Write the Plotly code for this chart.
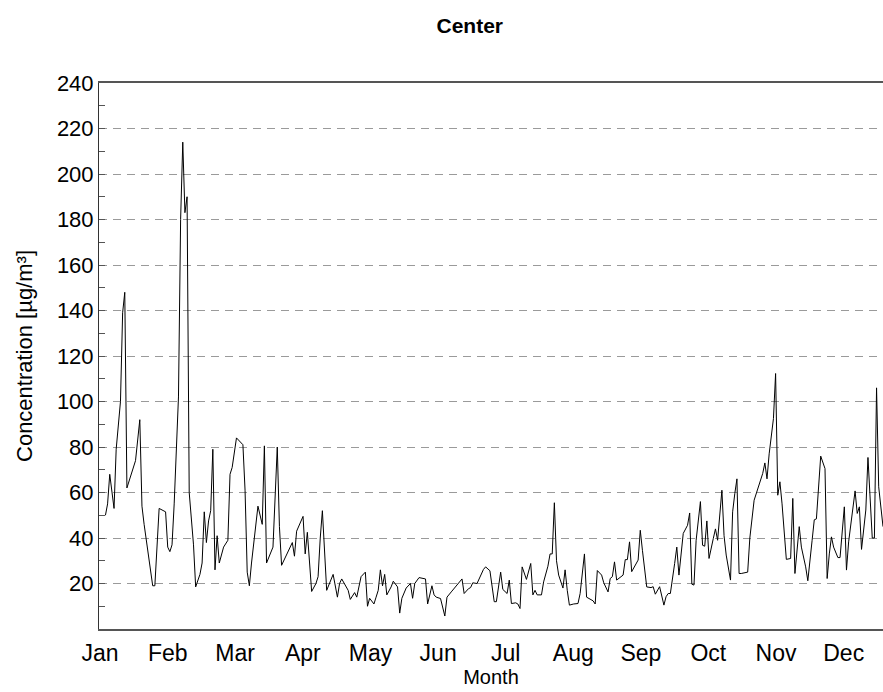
import plotly.graph_objects as go

# Daily mean concentration at the "Center" station (day of year, µg/m³)
days = [
    3, 4, 5, 7, 8, 10, 11, 12, 13, 15, 17, 19, 20, 21, 25, 26, 28, 31, 32, 33,
    34, 35, 37, 38, 39, 40, 41, 42, 44, 45, 47, 48, 49, 50, 51,
    52, 53, 54, 55, 56, 58, 60, 61, 62, 64, 67, 68, 69, 70, 71, 73, 74, 76, 77,
    78, 81, 83, 84, 85, 87, 90, 91, 92, 95, 96, 97, 99, 101, 102,
    103, 104, 106, 108, 109, 111, 112, 113, 115, 116, 117, 119, 120, 121, 122,
    124, 125, 126, 128, 129, 130, 131, 132, 133, 134, 136, 137, 139, 140, 141,
    143, 145, 146, 147, 149, 152, 153,
    155, 156, 157, 159, 161, 162, 164, 166, 169, 170, 172, 173, 174, 176, 177,
    179, 180, 182, 184, 185, 187, 188, 190, 191, 192, 194, 195, 196, 197, 199,
    201, 202, 203, 204,
    206, 207, 209, 210, 211, 212, 213, 214, 216, 217, 218, 219, 221, 223, 224,
    225, 226, 227, 230, 231, 232, 234, 235, 237, 238, 239, 240, 241, 243, 244,
    245, 246, 247, 248, 251, 252, 253, 254, 255, 257,
    258, 259, 261, 263, 264, 265, 266, 268, 269, 270, 271, 272, 274, 275, 276,
    277, 278, 280, 281, 282, 283, 284, 286, 287, 288, 289, 290, 291, 292, 294,
    295, 296, 297, 298, 299, 302, 303, 305, 307,
    309, 310, 311, 312, 314, 315, 316, 317, 318, 320, 322, 323, 324, 326, 327,
    329, 330, 332, 333, 334, 335, 336, 338, 339, 340, 341, 342, 344, 345, 347,
    348, 349, 352, 353, 354, 355, 357, 358, 360, 361, 362, 363, 365,
]
concentration = [
    50, 55, 68, 53, 79, 100, 139, 148, 62, 68, 74, 92, 54, 46, 19, 19, 53, 51.5, 36, 34,
    37, 55, 102, 180, 214, 183, 190, 60, 37, 18.5, 24, 29, 51.5, 38, 47.5,
    52, 79, 26, 41, 29, 36, 39, 68, 71, 84, 81, 61, 25, 19, 29, 44, 54, 46, 80.5,
    29, 36, 80, 45, 28, 32, 38, 32, 43, 49.5, 33, 42.5, 16.5, 20, 23,
    40, 52, 17, 21.5, 24, 14, 20, 22, 19, 17, 13, 16, 14, 19, 23,
    25, 10, 13.5, 11, 14, 17, 26, 19, 24, 15, 18.5, 21, 18.5, 7, 13.5,
    18, 20, 13.5, 20, 22.6, 22, 11,
    19, 15, 14, 13.4, 5.7, 14, 16.3, 18.8, 22, 15.6, 17.7, 18.2, 20.3, 20, 22,
    26.2, 27.3, 25.6, 12, 12, 25, 17.4, 15.6, 21.5, 11.2, 11.5, 11, 9, 27.3, 21.8,
    28.8, 15, 17, 15,
    15, 20.7, 27.6, 33, 33, 55.5, 30, 23.7, 18, 26, 17, 10.5, 11, 11.2, 15.6,
    23.7, 33, 14, 12.4, 11, 25.7, 23.7, 20.3, 16.3, 22.2, 23, 29.5, 21.5, 23, 23.7,
    30.5, 30.5, 38.3, 25.2, 30.3, 43.4, 34.6, 26.6, 18.5, 18.2,
    18.6, 15.3, 18.6, 10.5, 14.2, 15.6, 15.6, 28.8, 36, 23.7, 33.5, 42, 45.6, 51, 19.7,
    19.3, 39, 56, 36.8, 36.4, 47.5, 31, 39.8, 44, 39, 51.5, 61, 41, 32.5, 21.5,
    51.5, 59.5, 66, 24.4, 24.4, 25, 40, 56.6, 62.4,
    68.4, 73, 66, 77, 92.5, 112.3, 58.8, 64.7, 55, 30.6, 31, 57.4, 24.4, 45, 36,
    27.3, 21.2, 39, 48, 48.4, 61, 76, 70.5, 22.2, 33, 40.5, 36, 31.4, 31.4, 53.7,
    25.9, 38.3, 60.7, 50.8, 53.7, 35, 52.3, 75.4, 40, 40, 106, 62.5, 45,
]

month_labels = ["Jan", "Feb", "Mar", "Apr", "May", "Jun",
                "Jul", "Aug", "Sep", "Oct", "Nov", "Dec"]
month_ticks = [0.5, 32.0, 63.4, 94.9, 126.4, 157.9,
               189.3, 220.8, 252.3, 283.7, 315.2, 346.7]
y_ticks = [20, 40, 60, 80, 100, 120, 140, 160, 180, 200, 220, 240]

FONT = "Liberation Sans, Arial, sans-serif"

fig = go.Figure(
    go.Scatter(
        x=days,
        y=concentration,
        mode="lines",
        line=dict(color="black", width=1),
        hoverinfo="x+y",
    )
)

fig.update_layout(
    width=883,
    height=692,
    margin=dict(l=99, r=0, t=83, b=63),
    paper_bgcolor="white",
    plot_bgcolor="white",
    showlegend=False,
    font=dict(family=FONT, size=21, color="black"),
    title=dict(
        text="<b>Center</b>",
        x=0.532,
        xanchor="center",
        y=0.963,
        yanchor="middle",
        font=dict(family=FONT, size=21, color="black"),
    ),
)

fig.update_xaxes(
    range=[0, 365],
    tickmode="array",
    tickvals=month_ticks,
    ticktext=month_labels,
    ticks="",
    ticklabelstandoff=2,
    showgrid=False,
    zeroline=False,
    showline=True,
    linecolor="#555555",
    linewidth=2,
    mirror=True,
    title=dict(text="Month", standoff=1, font=dict(size=20)),
    tickfont=dict(size=23),
)

fig.update_yaxes(
    range=[0, 240],
    tickmode="array",
    tickvals=y_ticks,
    ticks="inside",
    ticklen=6,
    tickcolor="#555555",
    showgrid=True,
    gridcolor="#9a9a9a",
    griddash="8px,6px",
    gridwidth=1,
    zeroline=False,
    showline=True,
    linecolor="#333333",
    linewidth=1,
    minor=dict(
        tickmode="array",
        tickvals=[10, 30, 50, 70, 90, 110, 130, 150, 170, 190, 210, 230],
        ticks="inside",
        ticklen=6,
        tickcolor="#555555",
        showgrid=False,
    ),
    title=dict(text="Concentration [µg/m³]", standoff=18, font=dict(size=22)),
    tickfont=dict(size=22),
)

fig.write_html("out.html")
